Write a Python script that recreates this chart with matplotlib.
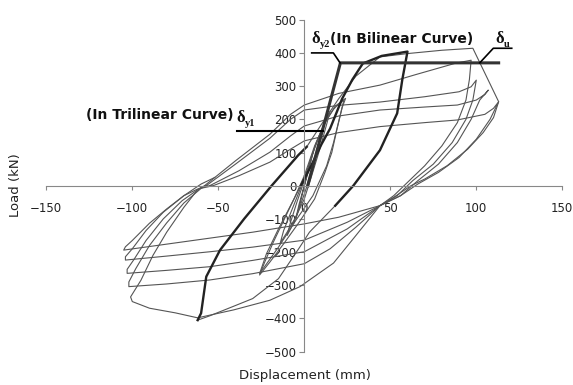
import matplotlib
matplotlib.use("Agg")
import matplotlib.pyplot as plt

# displacement (mm), load (kN)
s1 = [(0, 0), (2, 45), (4, 85), (5, 100), (3, 55), (0, 0), (-2, -45), (-4, -85),
      (-5, -100), (-3, -55), (0, 0)]
s2 = [(0, 0), (3, 60), (6, 115), (9, 155), (10, 168), (8, 120), (4, 45), (1, -10),
      (-3, -70), (-7, -120), (-10, -150), (-8, -110), (-4, -45), (0, 15)]
s3 = [(0, 15), (4, 85), (8, 140), (12, 190), (15, 225), (13, 185), (9, 110), (4, 25),
      (0, -40), (-5, -95), (-10, -140), (-14, -173), (-12, -135), (-7, -70), (-2, -5), (2, 50)]
s4 = [(2, 50), (7, 130), (12, 190), (17, 230), (21, 252), (24, 263), (22, 235), (19, 170),
      (16, 100), (12, 40), (6, -40), (-3, -110), (-12, -175), (-20, -230), (-26, -269),
      (-23, -230), (-18, -170), (-12, -105), (-6, -40), (0, 30)]
s4b = [(0, 30), (6, 120), (12, 190), (18, 240), (23, 258), (21, 215), (17, 130), (13, 60),
       (5, -30), (-5, -105), (-15, -185), (-26, -265), (-22, -205), (-15, -130), (-8, -60), (-2, 0)]

# highlighted cycle: thick loading / unloading, thin negative loading
thick_a = [(-2, 0), (4, 60), (10, 125), (15, 172), (22, 262), (28, 320), (34, 368), (45, 391),
           (60, 404), (57, 320), (54, 218), (44, 107), (28.5, 0), (18, -60)]
thin_e = [(18, -60), (3, -140), (-2.5, -184), (-15, -280), (-30, -340), (-41.5, -364),
          (-55, -392), (-62, -405)]
thick_b = [(-62, -405), (-60, -384), (-57, -274), (-49, -194), (-35, -100), (-19, 0),
           (-3.5, 92), (1.4, 117)]

big1 = [(1.4, 117), (10, 185), (20, 262), (30, 330), (44, 388), (60, 398), (80, 408), (98, 414),
        (113, 253), (110, 205), (104, 160), (95, 110), (83, 60), (70, 20), (62, 0), (52, -35),
        (44, -60), (30, -150), (17, -233), (-2.5, -304), (-20, -345), (-41, -374), (-62, -398),
        (-75, -383), (-90, -369), (-100, -349), (-101, -335), (-95, -285), (-88, -210),
        (-80, -140), (-70, -65), (-62, -12), (-58, 0)]
big2 = [(-58, 0), (-40, 75), (-20, 155), (-8, 215), (0, 243), (20, 278), (44, 303), (65, 335),
        (88, 369), (97, 378), (96, 320), (94, 258), (89, 190), (80, 120), (70, 60), (60, 10),
        (52, -30), (44, -60), (30, -125), (15, -190), (0, -235), (-30, -265), (-55, -284),
        (-80, -296), (-102, -304), (-102, -290), (-98, -250), (-90, -180), (-80, -112),
        (-70, -52), (-60, -8), (-57, 0)]
big3 = [(-57, 0), (-40, 65), (-20, 143), (-8, 200), (0, 228), (20, 242), (44, 252), (70, 268),
        (90, 283), (97, 298), (100, 318), (98, 258), (94, 200), (86, 130), (75, 65), (63, 15),
        (54, -30), (44, -60), (25, -130), (0, -199), (-30, -225), (-55, -244), (-80, -255),
        (-103, -264), (-103, -252), (-99, -222), (-92, -165), (-82, -100), (-71, -45),
        (-60, -5), (-55, 0)]
big4 = [(-55, 0), (-38, 45), (-20, 101), (-8, 150), (0, 180), (20, 210), (44, 228), (70, 237),
        (89, 243), (100, 258), (105, 275), (107, 288), (102, 258), (97, 200), (89, 130),
        (78, 65), (66, 15), (56, -30), (44, -60), (25, -110), (0, -164), (-30, -185),
        (-55, -199), (-80, -212), (-104, -224), (-104, -214), (-100, -190), (-92, -135),
        (-82, -80), (-70, -30), (-62, -10), (-53, 0)]
big5 = [(-53, 0), (-38, 30), (-20, 71), (-8, 110), (0, 135), (20, 160), (44, 178), (70, 190),
        (89, 198), (105, 215), (110, 233), (113, 253), (108, 200), (100, 140), (90, 85),
        (78, 40), (66, 5), (56, -30), (44, -60), (20, -95), (0, -115), (-30, -140),
        (-55, -158), (-80, -176), (-105, -194), (-104, -184), (-100, -165), (-90, -113),
        (-80, -70), (-70, -30), (-60, 5), (-52, 25)]

# idealised curves and leaders
bilinear = [(2, 0), (21, 370), (113, 370)]
lead_y1 = [(-39, 164), (11, 164)]
lead_y2 = [(4.3, 400), (16.9, 400), (20.8, 370)]
lead_u = [(120.6, 414), (109.9, 414), (102, 370)]

xticks = [-150, -100, -50, 0, 50, 100, 150]
yticks = [-500, -400, -300, -200, -100, 0, 100, 200, 300, 400, 500]

fig = plt.figure(figsize=(5.73, 3.85), dpi=100)
ax = fig.add_axes([0.0808, 0.0865, 0.9005, 0.8623])


def xy(pts):
    return [p[0] for p in pts], [p[1] for p in pts]


def delta(x, y, sub):
    ax.text(x, y, 'δ', family='Liberation Serif', fontweight='bold', fontsize=12,
            color='#111111')
    ax.annotate(sub, (x, y), xytext=(6, -3), textcoords='offset points',
                family='Liberation Serif', fontweight='bold', fontsize=7.5, color='#111111')


for c in [s1, s2, s3, s4, s4b, thin_e, big1, big2, big3, big4, big5]:
    ax.plot(*xy(c), color='#555555', lw=0.8)
ax.plot(*xy(thick_a), color='#222222', lw=1.7)
ax.plot(*xy(thick_b), color='#222222', lw=1.7)
ax.plot(*xy(bilinear), color='#333333', lw=2.2)
ax.plot(*xy(lead_y1), color='black', lw=1.5)
ax.plot(*xy(lead_y2), color='black', lw=1.2)
ax.plot(*xy(lead_u), color='black', lw=1.2)

ax.set_xlim(-150, 150)
ax.set_ylim(-500, 500)
ax.set_xticks(xticks)
ax.set_yticks(yticks)
ax.spines['left'].set_position(('data', 0))
ax.spines['bottom'].set_position(('data', 0))
ax.spines['top'].set_visible(False)
ax.spines['right'].set_visible(False)
for s in ['left', 'bottom']:
    ax.spines[s].set_color('#888888')
ax.tick_params(axis='x', direction='out', length=3, color='#888888', pad=9,
               labelsize=8.5, labelcolor='#222222')
ax.tick_params(axis='y', direction='out', length=3.6, color='#888888', pad=2,
               labelsize=8.5, labelcolor='#222222')

bold = dict(fontsize=10, fontweight='bold', color='#111111', family='DejaVu Sans')
delta(4.0, 431, 'y2')
ax.text(15.0, 431, '(In Bilinear Curve)', **bold)
delta(110.9, 430, 'u')
ax.text(-127, 201, '(In Trilinear Curve)', **bold)
delta(-39.3, 193, 'y1')

fig.text(305 / 573, 1 - 376 / 385, 'Displacement (mm)', ha='center', va='center',
         fontsize=9.5, color='#222222')
fig.text(15 / 573, 1 - 185 / 385, 'Load (kN)', ha='center', va='center', rotation=90,
         fontsize=9.5, color='#222222')

fig.savefig('out.png', dpi=100)
